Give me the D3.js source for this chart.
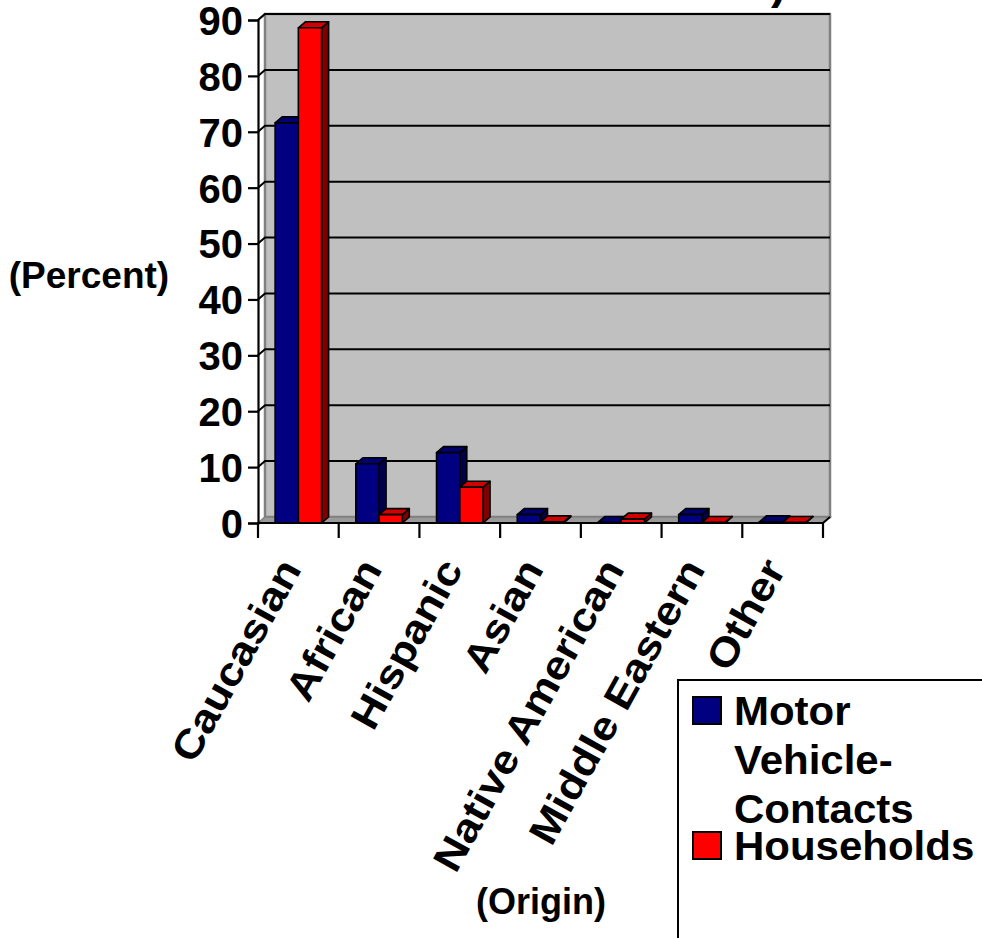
<!DOCTYPE html>
<html>
<head>
<meta charset="utf-8">
<script src="https://cdn.jsdelivr.net/npm/d3@7"></script>
<style>
  html, body { margin: 0; padding: 0; background: #ffffff; }
  svg { display: block; }
  text { font-family: "Liberation Sans", Arial, Helvetica, sans-serif; font-weight: bold; fill: #000; }
</style>
</head>
<body>
<div id="chart"></div>
<script>
// ---------- data ----------
const categories = ["Caucasian", "African", "Hispanic", "Asian", "Native American", "Middle Eastern", "Other"];
const seriesNames = ["Motor Vehicle-Contacts", "Households"];
const motorVehicleContacts = [71.6, 10.6, 12.6, 1.5, 0.1, 1.5, 0.2];
const households = [88.6, 1.5, 6.4, 0.2, 0.7, 0.1, 0.1];
const yTicks = [0, 10, 20, 30, 40, 50, 60, 70, 80, 90];
const legendLines = [["Motor", "Vehicle-", "Contacts"], ["Households"]];
const yAxisTitle = "(Percent)";
const xAxisTitle = "(Origin)";

// ---------- layout ----------
const W = 982, H = 938;
const depth = { dx: 7, dy: -6 };
const colors = [
  { front: "#000080", top: "#000070", side: "#00004a" },
  { front: "#ff0000", top: "#d00000", side: "#800000" }
];

const svg = d3.select("#chart").append("svg").attr("width", W).attr("height", H);
svg.append("rect").attr("width", W).attr("height", H).attr("fill", "#fff");

const x = d3.scaleBand().domain(categories).range([258, 823]).padding(0);
const y = d3.scaleLinear().domain([0, 90]).range([523, 20]);

const x0 = x.range()[0], x1 = x.range()[1];
const yb = y(0), yt = y(90);
const line = d3.line();

// Title fragment (clipped at top of the picture)
svg.append("text").attr("x", 771).attr("y", -2).attr("font-size", 46).text(")");

// back wall
svg.append("path")
  .attr("d", line([[x0 + depth.dx, yt + depth.dy], [x1 + depth.dx, yt + depth.dy], [x1 + depth.dx, yb + depth.dy], [x0 + depth.dx, yb + depth.dy]]) + "Z")
  .attr("fill", "#c0c0c0").attr("stroke", "#808080").attr("stroke-width", 2.5);

// floor
svg.append("path")
  .attr("d", line([[x0, yb], [x1, yb], [x1 + depth.dx, yb + depth.dy], [x0 + depth.dx, yb + depth.dy]]) + "Z")
  .attr("fill", "#9a9a9a").attr("stroke", "#808080").attr("stroke-width", 1.5);

// side wall edge
svg.append("path")
  .attr("d", line([[x0, yt], [x0 + depth.dx, yt + depth.dy]]))
  .attr("fill", "none").attr("stroke", "#808080").attr("stroke-width", 2);

// gridlines (back wall + side wall connectors)
const grid = svg.append("g");
yTicks.filter(v => v > 0).forEach(v => {
  grid.append("path")
    .attr("d", line([[x0, y(v)], [x0 + depth.dx, y(v) + depth.dy], [x1 + depth.dx, y(v) + depth.dy]]))
    .attr("fill", "none").attr("stroke", "#000").attr("stroke-width", 2);
});

// bars
const seriesValues = [motorVehicleContacts, households];
const bw = x.bandwidth() * 0.288;
const bars = svg.append("g");
categories.forEach((c, ci) => {
  seriesValues.forEach((vals, si) => {
    const v = vals[ci];
    const xl = x(c) + x.bandwidth() / 2 - bw + si * bw;
    const xr = xl + bw;
    const yv = y(v);
    const col = colors[si];
    const g = bars.append("g").attr("stroke", "#000").attr("stroke-width", 1.6).attr("stroke-linejoin", "round");
    g.append("path")
      .attr("d", line([[xr, yv], [xr + depth.dx, yv + depth.dy], [xr + depth.dx, yb + depth.dy], [xr, yb]]) + "Z")
      .attr("fill", col.side);
    g.append("path")
      .attr("d", line([[xl, yv], [xl + depth.dx, yv + depth.dy], [xr + depth.dx, yv + depth.dy], [xr, yv]]) + "Z")
      .attr("fill", col.top);
    g.append("rect")
      .attr("x", xl).attr("y", yv).attr("width", bw).attr("height", Math.max(0, yb - yv))
      .attr("fill", col.front);
  });
});

// right edge connector of floor
svg.append("path")
  .attr("d", line([[x1, yb], [x1 + depth.dx, yb + depth.dy]]))
  .attr("stroke", "#000").attr("stroke-width", 2).attr("fill", "none");

// y axis
const yAxis = d3.axisLeft(y).tickValues(yTicks).tickSize(10).tickPadding(5).tickFormat(d3.format("d"));
const gy = svg.append("g").attr("transform", `translate(${x0},0)`).call(yAxis);
gy.select(".domain").attr("stroke", "#000").attr("stroke-width", 2.2);
gy.selectAll(".tick line").attr("stroke", "#000").attr("stroke-width", 2.2);
gy.selectAll(".tick text")
  .attr("font-size", 40).attr("font-weight", "bold")
  .attr("font-family", '"Liberation Sans", Arial, sans-serif')
  .attr("fill", "#000").attr("dy", "0.36em");

// x axis (ticks at category boundaries)
const boundaries = categories.map(c => x(c)).concat([x1]);
const gx = svg.append("g");
gx.append("path").attr("d", line([[x0, yb], [x1, yb]])).attr("stroke", "#000").attr("stroke-width", 2.2);
gx.selectAll("line.tk").data(boundaries).join("line")
  .attr("x1", d => d).attr("x2", d => d).attr("y1", yb).attr("y2", yb + 15)
  .attr("stroke", "#000").attr("stroke-width", 2.2);

gx.selectAll("text.cat").data(categories).join("text")
  .attr("class", "cat")
  .attr("font-size", 40)
  .attr("text-anchor", "end")
  .attr("transform", d => `translate(${x(d) + x.bandwidth() / 2 + 4},${569}) rotate(-61) scale(1.12,1)`)
  .text(d => d);

// axis titles
svg.append("text").attr("x", 89).attr("y", 288).attr("text-anchor", "middle").attr("font-size", 37).text(yAxisTitle);
svg.append("text").attr("x", 541).attr("y", 914).attr("text-anchor", "middle").attr("font-size", 36).text(xAxisTitle);

// legend
const lg = svg.append("g");
lg.append("rect").attr("x", 678).attr("y", 680).attr("width", 320).attr("height", 280)
  .attr("fill", "#fff").attr("stroke", "#000").attr("stroke-width", 2);
const legendRows = [
  { sy: 697, baseline: 725 },
  { sy: 832, baseline: 860 }
];
seriesNames.forEach((name, si) => {
  const r = legendRows[si];
  lg.append("rect").attr("x", 693).attr("y", r.sy).attr("width", 28).attr("height", 27)
    .attr("fill", colors[si].front).attr("stroke", "#000").attr("stroke-width", 2);
  const t = lg.append("text").attr("transform", `translate(734,${r.baseline}) scale(1.05,1)`).attr("font-size", 40);
  legendLines[si].forEach((ln, li) => {
    t.append("tspan").attr("x", 0).attr("dy", li === 0 ? 0 : 49).text(ln);
  });
});
</script>
</body>
</html>
